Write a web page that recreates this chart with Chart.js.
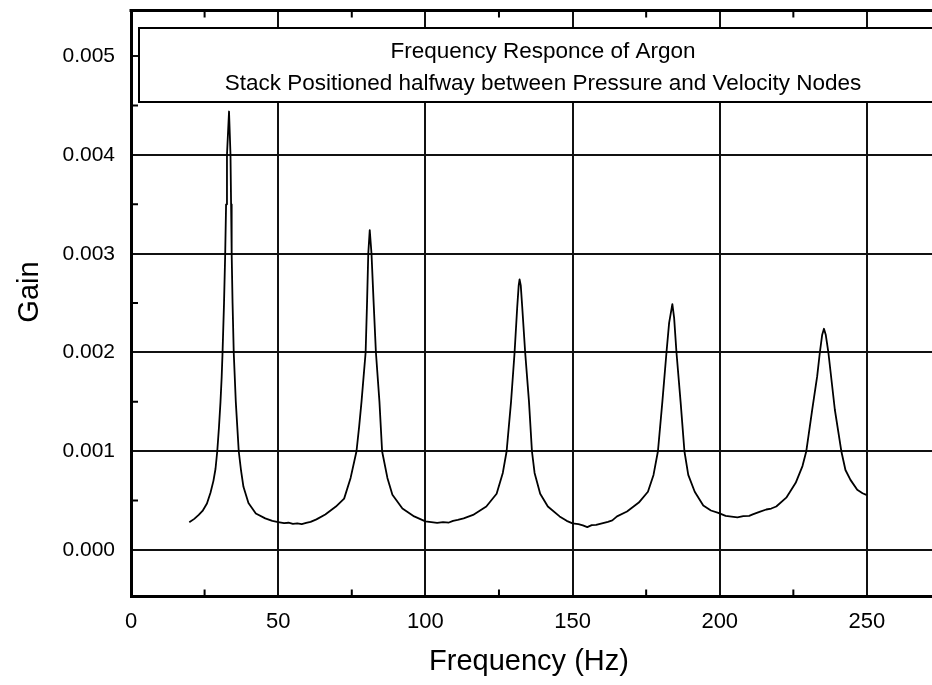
<!DOCTYPE html>
<html><head><meta charset="utf-8">
<script src="https://cdn.jsdelivr.net/npm/chart.js@4/dist/chart.umd.min.js"></script>
<style>html,body{margin:0;padding:0;background:#fff;}#wrap{width:932px;height:685px;position:relative;}canvas{display:block;}</style>
</head><body><div id="wrap"><canvas id="c" width="932" height="685"></canvas></div>
<script>
const titleLines = ["Frequency Responce of Argon", "Stack Positioned halfway between Pressure and Velocity Nodes"];
const xAxisTitle = "Frequency (Hz)";
const yAxisTitle = "Gain";
const xTickValues = [0, 50, 100, 150, 200, 250];
const xMinorTicks = [25, 75, 125, 175, 225];
const yTickValues = [0, 0.001, 0.002, 0.003, 0.004, 0.005];
const yMinorTicks = [0.0005, 0.0015, 0.0025, 0.0035, 0.0045];

const frequencyHz = [
 19.8,21.5,23.0,24.3,25.8,27.0,28.0,28.7,29.3,29.9,30.4,30.8,31.1,31.6,32.0,32.3,32.6,33.3,33.8,34.0,34.2,34.5,34.9,35.6,36.6,37.4,38.2,39.9,42.4,45.6,48.0,
 50.0,52.0,53.5,55.0,56.5,58.0,59.5,61.0,63.0,66.0,69.6,72.4,74.6,76.6,77.5,78.3,79.0,79.7,80.2,80.6,81.1,81.7,82.4,83.2,84.4,85.3,87.1,88.8,92.2,96.2,
 100.0,102.0,104.0,106.0,108.0,109.4,111.0,113.0,116.2,120.7,124.2,126.3,127.6,129.1,130.3,131.2,131.7,132.0,132.4,132.9,133.9,135.2,136.2,137.1,139.0,141.6,145.6,148.0,
 150.0,152.0,153.5,155.0,156.5,158.0,160.0,162.0,163.5,165.1,168.5,172.5,175.6,177.5,179.0,180.5,181.9,182.8,183.9,184.5,185.3,186.7,188.0,189.3,191.5,194.4,197.0,199.5,
 202.0,204.0,206.0,208.0,210.0,211.2,213.5,215.8,217.5,219.2,222.6,225.8,228.1,229.4,231.4,233.1,234.0,234.8,235.4,236.0,236.9,239.1,241.3,242.7,244.4,246.7,248.5,250.0
];
const gain = [
 0.000280,0.000315,0.000355,0.000395,0.000470,0.000580,0.000700,0.000820,0.001000,0.001250,0.001500,0.001750,0.002000,0.002500,0.003000,0.003500,0.004000,0.004440,0.004000,0.003500,0.003000,0.002500,0.002000,0.001500,0.001000,0.000800,0.000640,0.000475,0.000370,0.000320,0.000295,
 0.000283,0.000272,0.000276,0.000265,0.000270,0.000262,0.000274,0.000285,0.000310,0.000360,0.000440,0.000520,0.000730,0.001000,0.001250,0.001500,0.001750,0.002000,0.002520,0.003000,0.003240,0.003000,0.002520,0.002000,0.001500,0.001000,0.000730,0.000560,0.000420,0.000340,
 0.000290,0.000282,0.000275,0.000283,0.000278,0.000295,0.000305,0.000320,0.000355,0.000440,0.000570,0.000780,0.001000,0.001500,0.002000,0.002460,0.002680,0.002740,0.002680,0.002460,0.002000,0.001500,0.001000,0.000780,0.000570,0.000440,0.000340,0.000295,
 0.000270,0.000262,0.000250,0.000232,0.000252,0.000255,0.000270,0.000285,0.000300,0.000340,0.000390,0.000480,0.000590,0.000760,0.001000,0.001500,0.002000,0.002300,0.002490,0.002350,0.002000,0.001500,0.001000,0.000760,0.000590,0.000450,0.000400,0.000375,
 0.000345,0.000338,0.000330,0.000342,0.000345,0.000360,0.000385,0.000410,0.000420,0.000440,0.000530,0.000680,0.000850,0.001000,0.001420,0.001760,0.002000,0.002180,0.002240,0.002180,0.002000,0.001420,0.001000,0.000810,0.000710,0.000610,0.000575,0.000555
];

const FONT = "'Liberation Sans', Arial, Helvetica, sans-serif";

const decor = {
  id: 'decor',
  afterDatasetsDraw(chart) {
    const ctx = chart.ctx, a = chart.chartArea;
    const xs = chart.scales.x, ys = chart.scales.y;
    ctx.save();
    ctx.strokeStyle = '#000';
    ctx.lineWidth = 3;
    ctx.beginPath(); ctx.moveTo(a.left - 1.5, a.top); ctx.lineTo(a.right, a.top); ctx.stroke();
    ctx.lineWidth = 2;
    ctx.beginPath();
    xMinorTicks.forEach(v => {
      const px = xs.getPixelForValue(v);
      ctx.moveTo(px, a.bottom); ctx.lineTo(px, a.bottom - 7);
      ctx.moveTo(px, a.top); ctx.lineTo(px, a.top + 7);
    });
    yMinorTicks.forEach(v => {
      const py = ys.getPixelForValue(v);
      ctx.moveTo(a.left, py); ctx.lineTo(a.left + 7, py);
    });
    ctx.stroke();
    const bx = a.left + 8, by = a.top + 17.5, bw = a.right - a.left + 20, bh = 74;
    ctx.fillStyle = '#fff';
    ctx.fillRect(bx, by, bw, bh);
    ctx.lineWidth = 2;
    ctx.strokeRect(bx, by, bw, bh);
    ctx.fillStyle = '#000';
    ctx.font = '22.5px ' + FONT;
    ctx.textAlign = 'center';
    ctx.textBaseline = 'alphabetic';
    const cx = a.left + 412;
    ctx.fillText(titleLines[0], cx, by + 30);
    ctx.fillText(titleLines[1], cx, by + 61.5);
    ctx.font = '29px ' + FONT;
    ctx.fillText(xAxisTitle, 529, 670);
    ctx.translate(38, 292);
    ctx.rotate(-Math.PI / 2);
    ctx.fillText(yAxisTitle, 0, 0);
    ctx.restore();
  }
};

new Chart(document.getElementById('c'), {
  type: 'line',
  data: {
    datasets: [{
      data: frequencyHz.map((f, i) => ({ x: f, y: gain[i] })),
      borderColor: '#000',
      borderWidth: 1.8,
      borderJoinStyle: 'round',
      pointRadius: 0,
      tension: 0,
      fill: false
    }]
  },
  options: {
    responsive: false,
    animation: false,
    devicePixelRatio: 1,
    layout: { padding: { top: 10.5, right: 0, left: 0, bottom: 0 } },
    plugins: { legend: { display: false }, tooltip: { enabled: false }, title: { display: false } },
    scales: {
      x: {
        type: 'linear', min: 0, max: 272.1,
        afterFit: s => { s.height = 88.5; s.paddingLeft = 0; s.paddingRight = 0; },
        afterBuildTicks: s => { s.ticks = xTickValues.map(v => ({ value: v })); },
        ticks: { padding: 12, color: '#000', font: { family: FONT, size: 22 }, callback: v => String(v), maxRotation: 0, autoSkip: false },
        grid: { color: '#111', lineWidth: 2, drawTicks: false },
        border: { display: true, color: '#000', width: 3 }
      },
      y: {
        type: 'linear', min: -0.000471, max: 0.005463,
        afterFit: s => { s.width = 131; s.paddingTop = 0; s.paddingBottom = 0; },
        afterBuildTicks: s => { s.ticks = yTickValues.map(v => ({ value: v })); },
        ticks: { padding: 16, color: '#000', font: { family: FONT, size: 21 }, callback: v => Number(v).toFixed(3), autoSkip: false },
        grid: { color: '#111', lineWidth: 2, drawTicks: false },
        border: { display: true, color: '#000', width: 3 }
      }
    }
  },
  plugins: [decor]
});
</script>
</body></html>
